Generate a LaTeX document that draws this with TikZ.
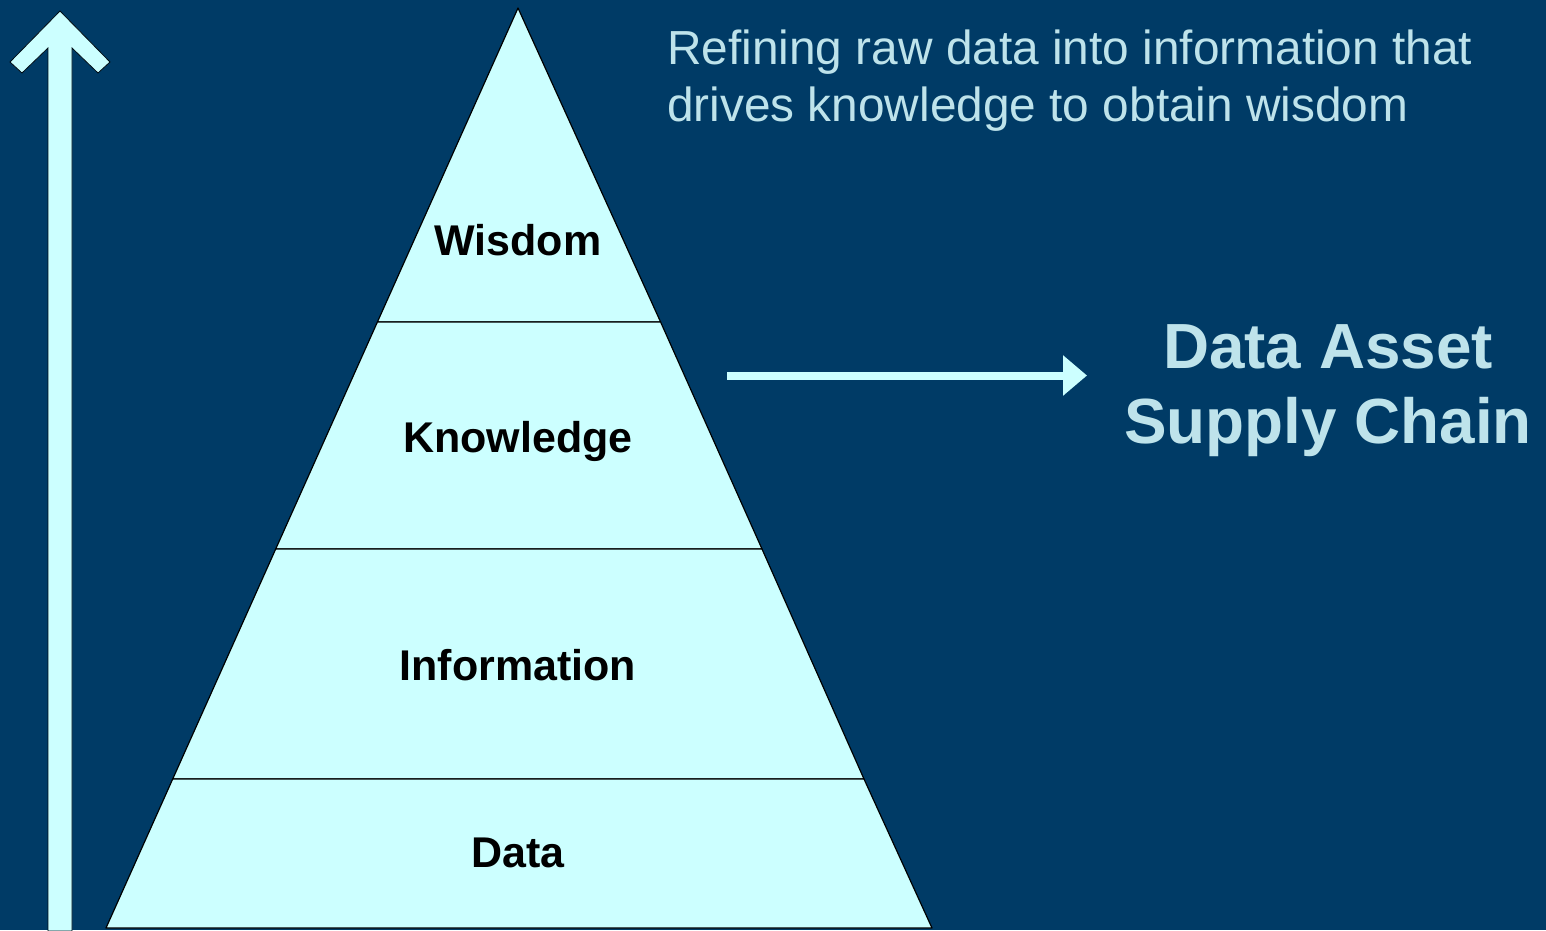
\documentclass[tikz,border=0pt]{standalone}
\usepackage{fontspec}
\setmainfont{Liberation Sans}
\usetikzlibrary{arrows.meta}
\definecolor{bg}{HTML}{003B66}
\definecolor{pale}{HTML}{CCFFFF}
\definecolor{lighttext}{HTML}{BEE3EB}
\tikzset{
  layer/.style={fill=pale, draw=black, line width=1.2pt, line join=round},
  lbl/.style={anchor=base, text=black, font=\fontsize{43}{50}\selectfont\bfseries, inner sep=0pt},
  captxt/.style={anchor=base west, text=lighttext, font=\fontsize{47.8}{58}\selectfont, inner sep=0pt},
  bigtxt/.style={anchor=base, text=lighttext, font=\fontsize{63.8}{75}\selectfont\bfseries, inner sep=0pt},
}
\begin{document}
\begin{tikzpicture}[x=1pt,y=-1pt]
\useasboundingbox (0,0) rectangle (1546,930);
\fill[bg] (0,0) rectangle (1546,930);
% upward arrow
\fill[pale, draw=black!80!bg, line width=0.8pt, line join=miter]
  (48,931) -- (48,48) -- (22,73) -- (10,62) -- (60,11) -- (110,62) -- (98,73) -- (72,48) -- (72,931) -- cycle;
% pyramid layers
\coordinate (apex) at (518,8);
\path[layer] (apex) -- (660.6,322) -- (377.4,322) -- cycle;
\path[layer] (377.4,322) -- (660.6,322) -- (762,549) -- (275.7,549) -- cycle;
\path[layer] (275.7,549) -- (762,549) -- (864,779) -- (172.7,779) -- cycle;
\path[layer] (172.7,779) -- (864,779) -- (932,928) -- (106,928) -- cycle;
\node[lbl] (wis) at (518,255) {Wisdom};
\node[lbl] (kno) at (518,452) {Knowledge};
\node[lbl] (inf) at (518,680) {Information};
\node[lbl] (dat) at (518,867) {Data};
% caption
\node[captxt] (t1) at (667,64) {Refining raw data into information that};
\node[captxt] (t2) at (667,121) {drives knowledge to obtain wisdom};
% right arrow
\coordinate (as) at (727,375.5);
\coordinate (ae) at (1087,375.5);
\draw[pale, line width=8pt, -{Triangle[width=39pt,length=24pt]}] (as) -- (ae);
\node[bigtxt] (d1) at (1328,368) {Data Asset};
\node[bigtxt] (d2) at (1328,443) {Supply Chain};
\end{tikzpicture}
\end{document}
